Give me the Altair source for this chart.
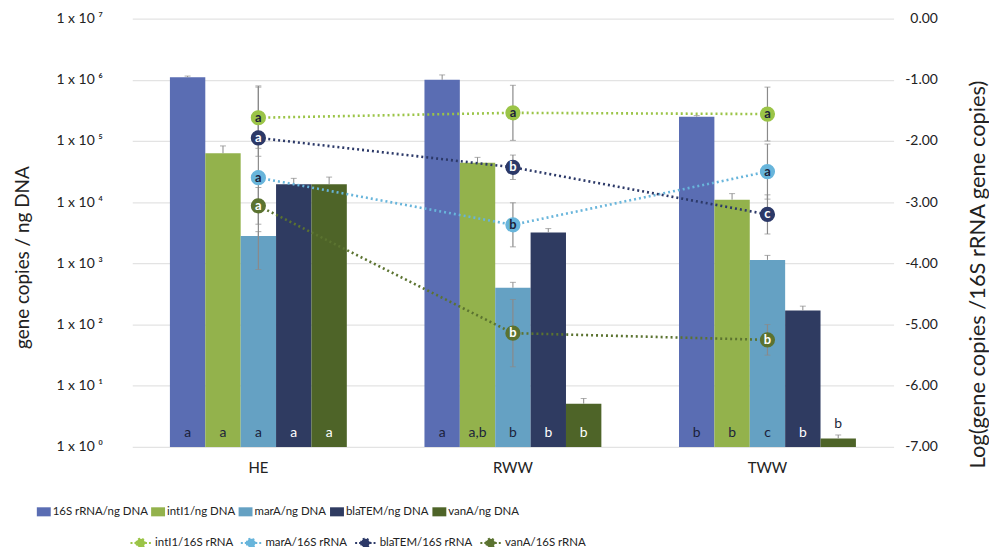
import altair as alt
import pandas as pd

# ---------------- data ----------------
groups = ["HE", "RWW", "TWW"]
genes = ["16S rRNA/ng DNA", "intI1/ng DNA", "marA/ng DNA", "blaTEM/ng DNA", "vanA/ng DNA"]
bar_colors = ["#5a6db3", "#93b24c", "#65a1c3", "#2f3b61", "#4e6428"]

abund_he = [1.1e6, 6.3e4, 2.8e3, 1.96e4, 1.96e4]
abund_rww = [1.0e6, 4.4e4, 4.0e2, 3.2e3, 5.1]
abund_tww = [2.5e5, 1.1e4, 1.14e3, 1.7e2, 1.38]

abund_top_he = [1.15e6, 8.3e4, 3.3e3, 2.45e4, 2.57e4]
abund_top_rww = [1.2e6, 5.4e4, 4.9e2, 3.7e3, 6.2]
abund_top_tww = [2.6e5, 1.38e4, 1.35e3, 2.0e2, 1.57]

letters_he = ["a", "a", "a", "a", "a"]
letters_rww = ["a", "a,b", "b", "b", "b"]
letters_tww = ["b", "b", "c", "b", "b"]

ratios = ["intI1/16S rRNA", "marA/16S rRNA", "blaTEM/16S rRNA", "vanA/16S rRNA"]
ratio_colors = ["#9bc447", "#68b5db", "#2c3968", "#5b7330"]

ratio_he = [-1.62, -2.60, -1.95, -3.06]
ratio_rww = [-1.54, -3.37, -2.43, -5.14]
ratio_tww = [-1.56, -2.50, -3.20, -5.25]

ratio_err_he = [0.50, 1.50, 0.30, 0.30]
ratio_err_rww = [0.45, 0.36, 0.20, 0.55]
ratio_err_tww = [0.44, 0.45, 0.32, 0.25]

rletters_he = ["a", "a", "a", "a"]
rletters_rww = ["a", "b", "b", "b"]
rletters_tww = ["a", "a", "c", "b"]

left_ticks = [1, 10, 100, 1000, 1e4, 1e5, 1e6, 1e7]
right_ticks = [0, -1, -2, -3, -4, -5, -6, -7]

# ---------------- tables ----------------
rows = []
for g, vals, tops, lets in [("HE", abund_he, abund_top_he, letters_he),
                            ("RWW", abund_rww, abund_top_rww, letters_rww),
                            ("TWW", abund_tww, abund_top_tww, letters_tww)]:
    for i, gene in enumerate(genes):
        v = vals[i]
        inside = v >= 3
        rows.append({
            "group": g, "gene": gene, "v": v, "top": tops[i], "letter": lets[i],
            "white": bool(inside and i >= 3),
            "ly": 1.7 if inside else tops[i] * 1.5,
        })
bars_df = pd.DataFrame(rows)

rrows = []
for g, vals, errs, lets in [("HE", ratio_he, ratio_err_he, rletters_he),
                            ("RWW", ratio_rww, ratio_err_rww, rletters_rww),
                            ("TWW", ratio_tww, ratio_err_tww, rletters_tww)]:
    for i, r in enumerate(ratios):
        rrows.append({
            "group": g, "ratio": r, "v": vals[i],
            "lo": vals[i] - errs[i], "hi": vals[i] + errs[i],
            "letter": lets[i], "white": i >= 2,
        })
ratio_df = pd.DataFrame(rrows)

FONT = "Lato"
LEG_FONT = "Lato"

x_enc = alt.X("group:N", sort=groups,
              scale=alt.Scale(paddingInner=0.305, paddingOuter=0.148),
              axis=alt.Axis(title=None, labelAngle=0, domain=False, ticks=False, grid=False,
                            labelPadding=14, labelFontSize=15, labelColor="#222",
                            labelFont=FONT))
x_plain = alt.X("group:N", sort=groups)
xoff = alt.XOffset("gene:N", sort=genes, scale=alt.Scale(paddingInner=0, paddingOuter=0))

sup_expr = ("datum.value >= 5e6 ? '1 x 10 ⁷' : datum.value >= 5e5 ? '1 x 10 ⁶' : "
            "datum.value >= 5e4 ? '1 x 10 ⁵' : datum.value >= 5e3 ? '1 x 10 ⁴' : "
            "datum.value >= 500 ? '1 x 10 ³' : datum.value >= 50 ? '1 x 10 ²' : "
            "datum.value >= 5 ? '1 x 10 ¹' : '1 x 10 ⁰'")

yscale_l = alt.Scale(type="log", domain=[1, 1e7])
left_axis = alt.Axis(
    values=left_ticks, labelExpr=sup_expr,
    title="gene copies / ng DNA", titleFontSize=19, titleFont=FONT, titleFontWeight="normal",
    titleAngle=-90, titleX=-110, titleY=240, titleAlign="center", titleBaseline="middle",
    titleColor="#222",
    labelFontSize=14, labelFont=FONT, labelColor="#222", labelPadding=30,
    domain=False, ticks=False, grid=True, gridColor="#e3e3e3", gridWidth=1.2,
)

bar_legend = alt.Legend(
    orient="none", legendX=-96, legendY=489, direction="horizontal", columns=5,
    title=None, symbolType="M-1,-0.65H1V0.65H-1Z", symbolSize=196, symbolStrokeWidth=0,
    labelFontSize=11.5, labelFont=LEG_FONT, labelColor="#222",
    columnPadding=3, labelOffset=2, labelLimit=200,
)

bars = alt.Chart(bars_df).mark_bar(strokeWidth=0).encode(
    x=x_enc, xOffset=xoff,
    y=alt.Y("v:Q", scale=yscale_l, axis=left_axis),
    y2=alt.datum(1),
    color=alt.Color("gene:N", sort=genes,
                    scale=alt.Scale(domain=genes, range=bar_colors), legend=bar_legend),
)
bar_err = alt.Chart(bars_df).mark_rule(color="#8a8a8a", strokeWidth=1).encode(
    x=x_plain, xOffset=xoff, y=alt.Y("v:Q", scale=yscale_l), y2="top:Q")
bar_cap = alt.Chart(bars_df).mark_tick(color="#8a8a8a", size=6, thickness=1).encode(
    x=x_plain, xOffset=xoff, y=alt.Y("top:Q", scale=yscale_l))
bar_txt = alt.Chart(bars_df).mark_text(fontSize=14, font=FONT, baseline="middle").encode(
    x=x_plain, xOffset=xoff, y=alt.Y("ly:Q", scale=yscale_l),
    text="letter:N",
    color=alt.condition("datum.white", alt.value("#ffffff"), alt.value("#1b1f3a")),
)
left = alt.layer(bars, bar_err, bar_cap, bar_txt)

# right side
yscale_r = alt.Scale(domain=[-7, 0])
right_axis = alt.Axis(
    orient="right", values=right_ticks,
    labelExpr="datum.value == 0 ? '0.00' : '-' + format(-datum.value, '.2f')",
    title="Log(gene copies /16S rRNA gene copies)", titleFontSize=22, titleFont=FONT,
    titleFontWeight="normal", titleAngle=-90, titleX=84, titleY=257, titleAlign="center",
    titleBaseline="middle", titleColor="#222",
    labelFontSize=14, labelFont=FONT, labelColor="#222", labelPadding=44, labelAlign="right",
    domain=False, ticks=False, grid=False,
)
line_symbol = ("M-1,0H-0.42M0.42,0H1M-0.42,0A0.42,0.42 0 1 1 0.42,0"
               "A0.42,0.42 0 1 1 -0.42,0Z")
ratio_legend = alt.Legend(
    orient="none", legendX=-3, legendY=516, direction="horizontal", columns=4,
    title=None, symbolType=line_symbol, symbolSize=420, symbolStrokeWidth=2,
    symbolDash=[2, 2],
    labelFontSize=11.5, labelFont=LEG_FONT, labelColor="#222",
    columnPadding=3, labelOffset=3, labelLimit=200,
)
rscale = alt.Scale(domain=ratios, range=ratio_colors)

r_err = alt.Chart(ratio_df).mark_rule(color="#8a8a8a", strokeWidth=1.2).encode(
    x=x_plain, y=alt.Y("lo:Q", scale=yscale_r, axis=right_axis), y2="hi:Q")
r_cap_lo = alt.Chart(ratio_df).mark_tick(color="#8a8a8a", size=6, thickness=1).encode(
    x=x_plain, y=alt.Y("lo:Q", scale=yscale_r))
r_cap_hi = alt.Chart(ratio_df).mark_tick(color="#8a8a8a", size=6, thickness=1).encode(
    x=x_plain, y=alt.Y("hi:Q", scale=yscale_r))
r_line = alt.Chart(ratio_df).mark_line(strokeDash=[2, 3], strokeWidth=2.6).encode(
    x=x_plain, y=alt.Y("v:Q", scale=yscale_r),
    stroke=alt.Stroke("ratio:N", sort=ratios, scale=rscale, legend=ratio_legend),
    detail="ratio:N",
)
r_pt = alt.Chart(ratio_df).mark_point(filled=True, size=190, opacity=1, strokeWidth=1.5).encode(
    x=x_plain, y=alt.Y("v:Q", scale=yscale_r),
    fill=alt.Fill("ratio:N", sort=ratios, scale=rscale, legend=ratio_legend),
    stroke=alt.Stroke("ratio:N", sort=ratios, scale=rscale, legend=ratio_legend),
)
r_txt = alt.Chart(ratio_df).mark_text(fontSize=13, font=FONT, fontWeight="bold",
                                      baseline="middle").encode(
    x=x_plain, y=alt.Y("v:Q", scale=yscale_r),
    text="letter:N",
    color=alt.condition("datum.white", alt.value("#ffffff"), alt.value("#1b1f3a")),
)
right = alt.layer(r_err, r_cap_lo, r_cap_hi, r_line, r_pt, r_txt)

chart = alt.layer(left, right).resolve_scale(y="independent").properties(
    width=766, height=431, background="white",
    autosize=alt.AutoSizeParams(type="none"),
    padding={"left": 125, "top": 9, "right": 96, "bottom": 99},
).configure_view(stroke=None)

chart.save("out.html", embed_options={"renderer": "svg", "actions": False})
